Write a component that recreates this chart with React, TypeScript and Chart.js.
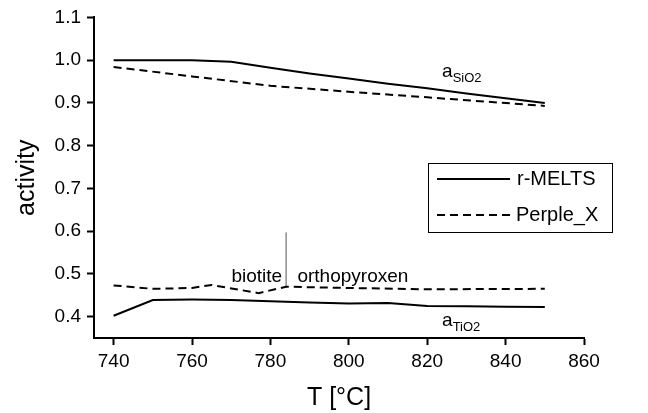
import React, { useEffect, useRef } from "react";
import { Chart, registerables } from "chart.js";

Chart.register(...registerables);

const FONT = "'Liberation Sans', Arial, Helvetica, sans-serif";

const xTicks = [740, 760, 780, 800, 820, 840, 860];
const yTicks = [0.4, 0.5, 0.6, 0.7, 0.8, 0.9, 1.0, 1.1];

const sio2MeltsT = [740, 760, 770, 780, 790, 800, 810, 820, 830, 840, 850];
const sio2MeltsA = [1.0, 1.0, 0.996, 0.982, 0.969, 0.957, 0.945, 0.934, 0.922, 0.911, 0.9];

const sio2PerpleT = [740, 760, 780, 800, 820, 850];
const sio2PerpleA = [0.984, 0.962, 0.94, 0.926, 0.913, 0.893];

const tio2MeltsT = [740, 750, 760, 770, 780, 790, 800, 810, 820, 830, 840, 850];
const tio2MeltsA = [0.402, 0.439, 0.44, 0.439, 0.436, 0.433, 0.431, 0.432, 0.425, 0.424, 0.423, 0.4225];

const tio2PerpleT = [740, 750, 760, 765, 777, 784, 800, 820, 850];
const tio2PerpleA = [0.473, 0.465, 0.467, 0.474, 0.455, 0.47, 0.467, 0.464, 0.465];

const boundaryT = [784, 784];
const boundaryA = [0.47, 0.597];

const zip = (xs: number[], ys: number[]) => xs.map((x, i) => ({ x, y: ys[i] }));

const annotationPlugin = {
  id: "annotations",
  afterDatasetsDraw(chart: any) {
    const { ctx, scales } = chart;
    const xs = scales.x;
    const ys = scales.y;
    ctx.save();
    ctx.fillStyle = "#000";
    ctx.textBaseline = "alphabetic";

    const sub = (main: string, subText: string, t: number, a: number) => {
      const px = xs.getPixelForValue(t);
      const py = ys.getPixelForValue(a);
      ctx.font = `19px ${FONT}`;
      ctx.textAlign = "left";
      ctx.fillText(main, px, py);
      const w = ctx.measureText(main).width;
      ctx.font = `13px ${FONT}`;
      ctx.fillText(subText, px + w, py + 5);
    };
    sub("a", "SiO2", 823.8, 0.9605);
    sub("a", "TiO2", 823.8, 0.3775);

    ctx.font = `19px ${FONT}`;
    ctx.textAlign = "right";
    ctx.fillText("biotite", xs.getPixelForValue(783), ys.getPixelForValue(0.48));
    ctx.textAlign = "left";
    ctx.fillText("orthopyroxen", xs.getPixelForValue(786.9), ys.getPixelForValue(0.48));

    // legend box
    const bx = 428, by = 163, bw = 184, bh = 69;
    ctx.lineWidth = 1;
    ctx.strokeStyle = "#000";
    ctx.setLineDash([]);
    ctx.strokeRect(bx + 0.5, by + 0.5, bw, bh);
    ctx.lineWidth = 2;
    ctx.beginPath();
    ctx.moveTo(437, 179);
    ctx.lineTo(510, 179);
    ctx.stroke();
    ctx.setLineDash([8, 5]);
    ctx.beginPath();
    ctx.moveTo(437, 215);
    ctx.lineTo(510, 215);
    ctx.stroke();
    ctx.setLineDash([]);
    ctx.font = `20px ${FONT}`;
    ctx.textAlign = "left";
    ctx.textBaseline = "middle";
    ctx.fillText("r-MELTS", 517, 179);
    ctx.fillText("Perple_X", 516, 215);
    ctx.restore();
  },
};

export default function App() {
  const ref = useRef<HTMLCanvasElement>(null);
  useEffect(() => {
    if (!ref.current) return;
    const solid = { borderColor: "#000", borderWidth: 2, pointRadius: 0, tension: 0, fill: false };
    const dashed = { ...solid, borderDash: [8, 5] };
    const chart = new Chart(ref.current, {
      type: "line",
      data: {
        datasets: [
          { label: "r-MELTS SiO2", data: zip(sio2MeltsT, sio2MeltsA), ...solid },
          { label: "Perple_X SiO2", data: zip(sio2PerpleT, sio2PerpleA), ...dashed },
          { label: "r-MELTS TiO2", data: zip(tio2MeltsT, tio2MeltsA), ...solid },
          { label: "Perple_X TiO2", data: zip(tio2PerpleT, tio2PerpleA), ...dashed },
          { label: "boundary", data: zip(boundaryT, boundaryA), borderColor: "#555", borderWidth: 1, pointRadius: 0, fill: false },
        ],
      },
      options: {
        animation: false,
        responsive: false,
        maintainAspectRatio: false,
        layout: { padding: { top: 17, right: 64, left: 0, bottom: 0 } },
        plugins: { legend: { display: false }, tooltip: { enabled: false } },
        scales: {
          x: {
            type: "linear",
            min: 735,
            max: 860,
            afterBuildTicks: (s: any) => {
              s.ticks = xTicks.map((v) => ({ value: v }));
            },
            afterFit: (s: any) => {
              s.height = 75;
            },
            grid: { display: true, drawOnChartArea: false, drawTicks: true, tickLength: 7, tickWidth: 2, tickColor: "#000" },
            border: { display: true, color: "#000", width: 2 },
            ticks: { color: "#000", font: { family: FONT, size: 19 }, padding: 5, maxRotation: 0, autoSkip: false },
            title: { display: true, text: "T [°C]", color: "#000", font: { family: FONT, size: 25 }, padding: { top: 0, bottom: 0 } },
          },
          y: {
            type: "linear",
            min: 0.35,
            max: 1.1,
            afterBuildTicks: (s: any) => {
              s.ticks = yTicks.map((v) => ({ value: v }));
            },
            afterFit: (s: any) => {
              s.width = 94;
            },
            grid: { display: true, drawOnChartArea: false, drawTicks: true, tickLength: 7, tickWidth: 2, tickColor: "#000" },
            border: { display: true, color: "#000", width: 2 },
            ticks: {
              color: "#000",
              font: { family: FONT, size: 19 },
              padding: 6,
              autoSkip: false,
              callback: (v: any) => Number(v).toFixed(1),
            },
            title: { display: true, text: "activity", color: "#000", font: { family: FONT, size: 25 }, padding: { top: 12, bottom: 0 } },
          },
        },
      },
      plugins: [annotationPlugin],
    } as any);
    return () => chart.destroy();
  }, []);
  return (
    <div style={{ position: "absolute", left: 0, top: 0, width: 648, height: 413, background: "#fff" }}>
      <canvas ref={ref} width={648} height={413} style={{ width: 648, height: 413 }} />
    </div>
  );
}
